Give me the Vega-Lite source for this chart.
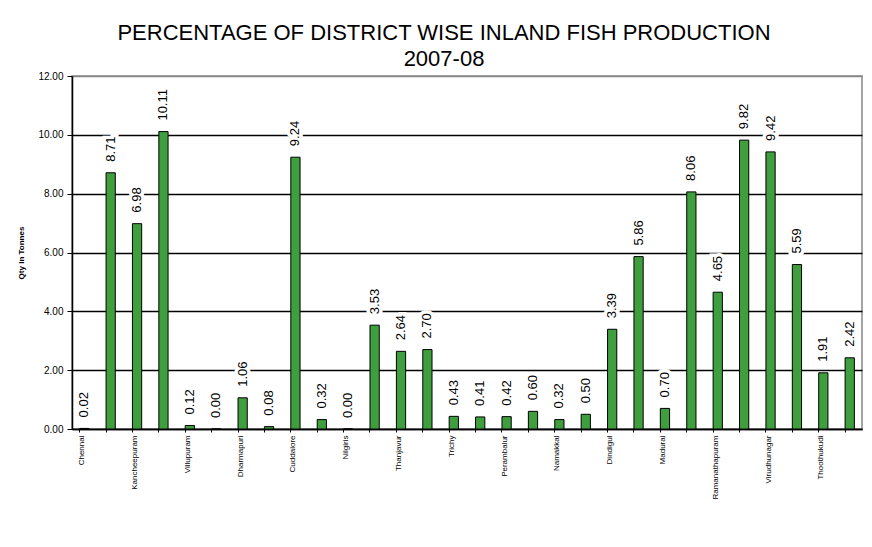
{
  "$schema": "https://vega.github.io/schema/vega-lite/v6.json",
  "width": 790,
  "height": 353,
  "autosize": "none",
  "padding": {"left": 72, "top": 76, "right": 10, "bottom": 118},
  "background": "white",
  "title": {
    "text": ["PERCENTAGE OF DISTRICT WISE INLAND FISH PRODUCTION", "2007-08"],
    "font": "Liberation Sans",
    "fontSize": 22,
    "fontWeight": "normal",
    "lineHeight": 26,
    "color": "black",
    "anchor": "middle",
    "dx": -23,
    "offset": 0
  },
  "config": {
    "view": {"stroke": "#888888", "strokeWidth": 1.5},
    "axis": {"labelFont": "Liberation Sans", "titleFont": "Liberation Sans"}
  },
  "data": {
    "values": [
      {"district": "Chennai", "pct": 0.02},
      {"district": "Thiruvallur", "pct": 8.71},
      {"district": "Kancheepuram", "pct": 6.98},
      {"district": "Vellore", "pct": 10.11},
      {"district": "Villupuram", "pct": 0.12},
      {"district": "Thiruvannamalai", "pct": 0.00},
      {"district": "Dharmapuri", "pct": 1.06},
      {"district": "Krishnagiri", "pct": 0.08},
      {"district": "Cuddalore", "pct": 9.24},
      {"district": "Salem", "pct": 0.32},
      {"district": "Nilgiris", "pct": 0.00},
      {"district": "Coimbatore", "pct": 3.53},
      {"district": "Thanjavur", "pct": 2.64},
      {"district": "Nagapattinam", "pct": 2.70},
      {"district": "Trichy", "pct": 0.43},
      {"district": "Karur", "pct": 0.41},
      {"district": "Perambalur", "pct": 0.42},
      {"district": "Ariyalur", "pct": 0.60},
      {"district": "Namakkal", "pct": 0.32},
      {"district": "Pudukottai", "pct": 0.50},
      {"district": "Dindigul", "pct": 3.39},
      {"district": "Theni", "pct": 5.86},
      {"district": "Madurai", "pct": 0.70},
      {"district": "Sivagangai", "pct": 8.06},
      {"district": "Ramanathapuram", "pct": 4.65},
      {"district": "Tirunelveli", "pct": 9.82},
      {"district": "Virudhunagar", "pct": 9.42},
      {"district": "Kanyakumari", "pct": 5.59},
      {"district": "Thoothukudi", "pct": 1.91},
      {"district": "Erode", "pct": 2.42}
    ]
  },
  "encoding": {
    "x": {
      "field": "district",
      "type": "nominal",
      "sort": null,
      "scale": {"paddingInner": 0.65, "paddingOuter": 0.29},
      "axis": {
        "title": null,
        "labelAngle": 270,
        "labelFontSize": 8,
        "labelColor": "black",
        "labelPadding": 3,
        "labelExpr": "indexof(['Chennai','Kancheepuram','Villupuram','Dharmapuri','Cuddalore','Nilgiris','Thanjavur','Trichy','Perambalur','Namakkal','Dindigul','Madurai','Ramanathapuram','Virudhunagar','Thoothukudi'], datum.value) >= 0 ? datum.label : ''",
        "bandPosition": 0,
        "labelOffset": -2,
        "tickSize": 3,
        "tickColor": "black",
        "domainColor": "black",
        "domainWidth": 1.5,
        "labelOverlap": false
      }
    },
    "y": {
      "field": "pct",
      "type": "quantitative",
      "scale": {"domain": [0, 12]},
      "axis": {
        "title": "Qty In Tonnes",
        "titleFontSize": 8,
        "titleFontWeight": "bold",
        "titleColor": "black",
        "titlePadding": 12,
        "values": [0, 2, 4, 6, 8, 10, 12],
        "format": ".2f",
        "labelFontSize": 10,
        "labelColor": "black",
        "labelPadding": 4,
        "tickSize": 5,
        "tickColor": "black",
        "domainColor": "black",
        "domainWidth": 1.5,
        "grid": true,
        "gridColor": {"condition": {"test": "datum.value == 12", "value": "#888888"}, "value": "black"},
        "gridWidth": 1.5
      }
    }
  },
  "layer": [
    {
      "mark": {"type": "bar", "fill": "#3f9f3f", "stroke": "black", "strokeWidth": 1}
    },
    {
      "mark": {
        "type": "text",
        "angle": 270,
        "align": "left",
        "baseline": "middle",
        "dx": 11,
        "font": "Liberation Sans",
        "fontSize": 13,
        "stroke": "white",
        "strokeWidth": 7,
        "fill": "white"
      },
      "encoding": {"text": {"field": "pct", "type": "quantitative", "format": ".2f"}}
    },
    {
      "mark": {
        "type": "text",
        "angle": 270,
        "align": "left",
        "baseline": "middle",
        "dx": 11,
        "font": "Liberation Sans",
        "fontSize": 13,
        "fill": "black"
      },
      "encoding": {"text": {"field": "pct", "type": "quantitative", "format": ".2f"}}
    }
  ]
}
